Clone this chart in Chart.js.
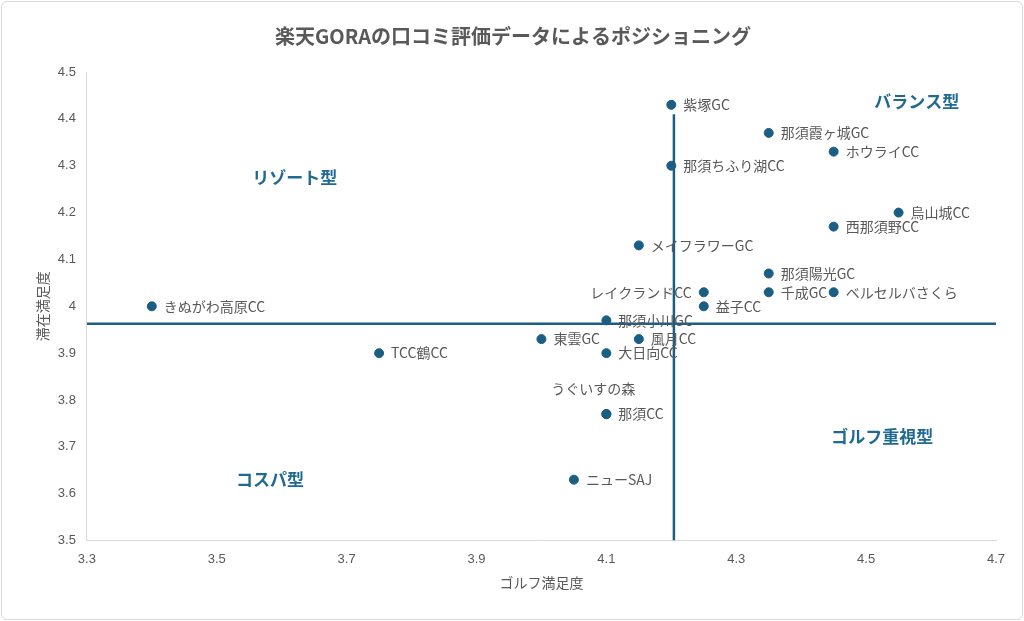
<!DOCTYPE html>
<html><head><meta charset="utf-8">
<script src="https://cdn.jsdelivr.net/npm/chart.js@4/dist/chart.umd.min.js"></script>
<style>
body{margin:0;background:#fff}
#wrap{position:absolute;left:1px;top:1px;width:1020px;height:617px;border:1px solid #d9d9d9;border-radius:6px}
</style></head>
<body><div id="wrap"><canvas id="c"></canvas></div>
<script>
// 口コミ評価データ
const names = ["紫塚GC","那須霞ヶ城GC","ホウライCC","那須ちふり湖CC","烏山城CC","西那須野CC","メイフラワーGC","那須陽光GC","レイクランドCC","千成GC","ベルセルバさくら","益子CC","きぬがわ高原CC","那須小川GC","東雲GC","風月CC","TCC鶴CC","大日向CC","那須CC","うぐいすの森","ニューSAJ"];
const golf = [4.2,4.35,4.45,4.2,4.55,4.45,4.15,4.35,4.25,4.35,4.45,4.25,3.4,4.1,4.0,4.15,3.75,4.1,4.1,4.1,4.05];
const stay = [4.43,4.37,4.33,4.3,4.2,4.17,4.13,4.07,4.03,4.03,4.03,4.0,4.0,3.97,3.93,3.93,3.9,3.9,3.77,3.77,3.63];
const labelPos = ["right","right","right","right","right","right","right","right","left","right","right","right","right","right","right","right","right","right","right","above","right"];
const avgGolf = 4.204, avgStay = 3.963;
const quadrants = [
  {text:"リゾート型", x:3.62, y:4.274},
  {text:"バランス型", x:4.578, y:4.437},
  {text:"ゴルフ重視型", x:4.525, y:3.722},
  {text:"コスパ型", x:3.582, y:3.631}
];
const col = "#1b5e83";

const labelPlugin = {
  id: "labels",
  afterDatasetsDraw(chart) {
    const {ctx, scales:{x, y}} = chart;
    ctx.save();
    ctx.font = "14px 'Noto Sans CJK JP'";
    ctx.fillStyle = "#595959";
    ctx.textBaseline = "middle";
    names.forEach((n, i) => {
      const px = x.getPixelForValue(golf[i]), py = y.getPixelForValue(stay[i]);
      if (labelPos[i] === "left") { ctx.textAlign = "right"; ctx.fillText(n, px - 12, py); }
      else if (labelPos[i] === "above") { ctx.textAlign = "center"; ctx.fillText(n, px - 13, py - 25); }
      else { ctx.textAlign = "left"; ctx.fillText(n, px + 12, py); }
    });
    ctx.font = "bold 17px 'Noto Sans CJK JP'";
    ctx.fillStyle = "#1f6a92";
    ctx.textAlign = "center";
    quadrants.forEach(q => ctx.fillText(q.text, x.getPixelForValue(q.x), y.getPixelForValue(q.y)));
    ctx.restore();
  }
};

new Chart(document.getElementById("c"), {
  type: "scatter",
  data: {
    datasets: [
      { data: golf.map((g, i) => ({x: g, y: stay[i]})), backgroundColor: col, borderColor: col, pointRadius: 4.5 },
      { type: "line", data: [{x: avgGolf, y: 4.41}, {x: avgGolf, y: 3.5}], borderColor: col, borderWidth: 2.5, pointRadius: 0 },
      { type: "line", data: [{x: 3.3, y: avgStay}, {x: 4.705, y: avgStay}], borderColor: col, borderWidth: 2.5, pointRadius: 0 }
    ]
  },
  options: {
    responsive: true, maintainAspectRatio: false, animation: false,
    layout: {padding: {left: 28, right: 26, top: 10, bottom: 24}},
    plugins: {
      legend: {display: false}, tooltip: {enabled: false},
      title: {display: true, text: "楽天GORAの口コミ評価データによるポジショニング", color: "#595959",
        font: {size: 20, weight: "bold", family: "'Noto Sans CJK JP'"}, padding: {top: 12, bottom: 24}}
    },
    scales: {
      x: {min: 3.3, max: 4.7, ticks: {stepSize: 0.2, color: "#595959", font: {size: 13}, callback: v => (+v).toFixed(1)},
        grid: {display: false}, border: {color: "#d9d9d9"},
        title: {display: true, text: "ゴルフ満足度", color: "#595959", font: {size: 14, family: "'Noto Sans CJK JP'"}}},
      y: {min: 3.5, max: 4.5, ticks: {stepSize: 0.1, color: "#595959", font: {size: 13}, callback: v => Math.abs(v - 4) < 1e-9 ? "4" : (+v).toFixed(1)},
        grid: {display: false}, border: {color: "#d9d9d9"},
        title: {display: true, text: "滞在満足度", color: "#595959", font: {size: 14, family: "'Noto Sans CJK JP'"}}}
    }
  },
  plugins: [labelPlugin]
});
</script></body></html>
